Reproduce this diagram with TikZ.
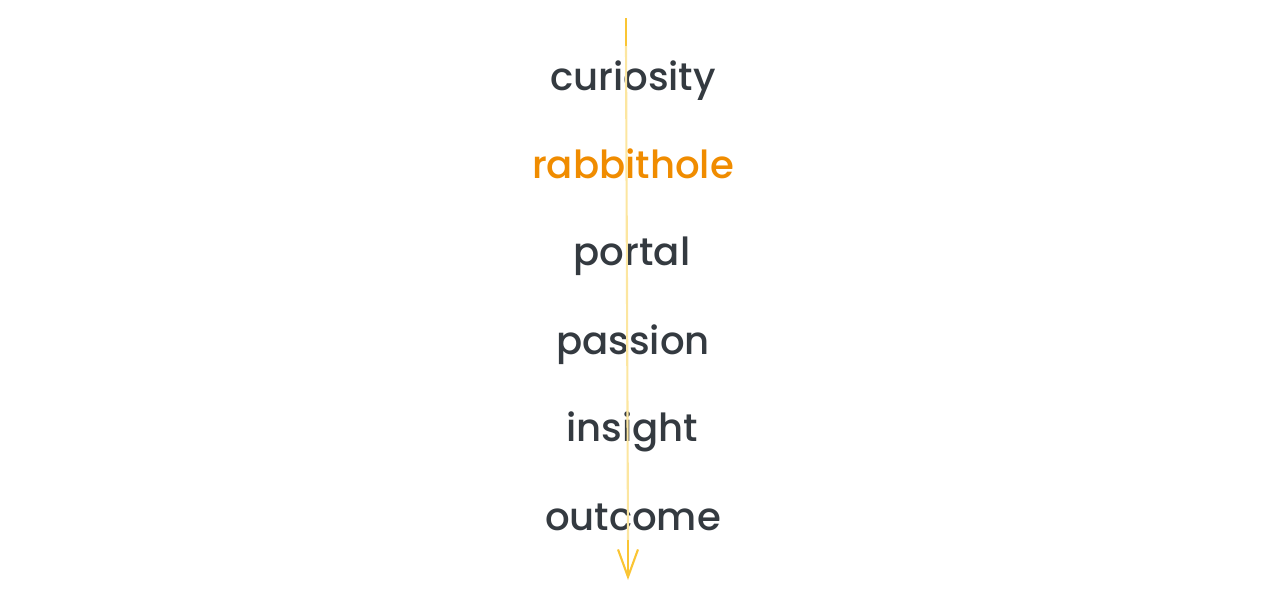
\documentclass[tikz,border=0pt]{standalone}
\usepackage{fontspec}
\setmainfont{Poppins}[BoldFont={Poppins Medium}]
\usetikzlibrary{arrows.meta}
\definecolor{inkdark}{HTML}{343A40}
\definecolor{inkorange}{HTML}{F08C00}
\definecolor{linepale}{HTML}{FCE6A0}
\definecolor{linegold}{HTML}{FAC534}
\tikzset{word/.style={anchor=base,font=\fontsize{22}{26}\selectfont\bfseries,text=inkdark}}
\begin{document}
\begin{tikzpicture}[x=0.02cm,y=-0.02cm]
\useasboundingbox (0,0) rectangle (1274,600);
\node[word] (curiosity) at (633,90) {curiosity};
\node[word,text=inkorange] (rabbithole) at (633,178) {rabbithole};
\node[word] (portal) at (632,265) {portal};
\node[word] (passion) at (633,354) {passion};
\node[word] (insight) at (632,441) {insight};
\node[word] (outcome) at (633,530) {outcome};
\coordinate (top) at (626,18);
\coordinate (bend) at (626,46);
\coordinate (low) at (628,540);
\coordinate (tip) at (628,580);
\draw[linepale,line width=1.2pt] (bend) -- (low);
\draw[linegold,line width=1.2pt] (top) -- (bend);
\draw[linegold,line width=1.2pt,-{Straight Barb[length=0.55cm,width=0.4cm]}] (low) -- (tip);
\end{tikzpicture}
\end{document}
